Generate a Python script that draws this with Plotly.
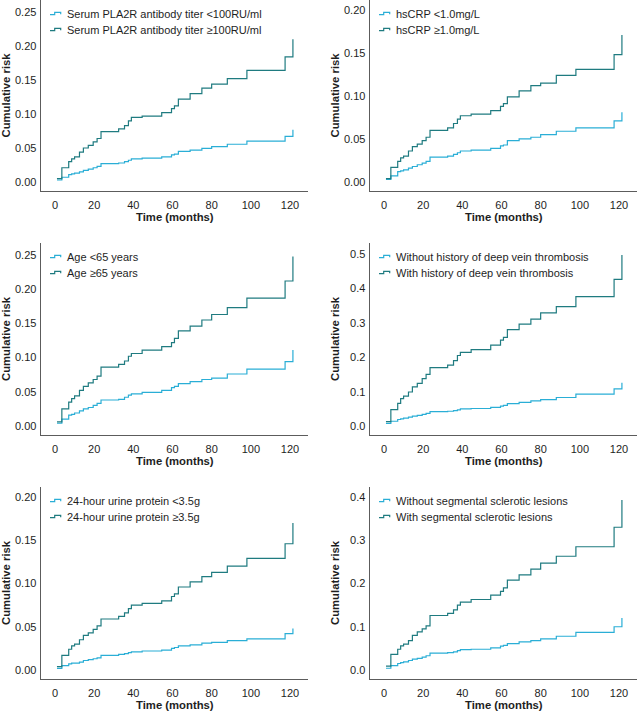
import plotly.graph_objects as go

W, H = 637, 711

# Event times (months) shared by all panels
months = [1, 3.5, 7, 8.5, 10, 12.5, 14.5, 17, 19.5, 21.5, 23.5, 32.5, 35.5, 37.5, 39,
          44.5, 54.5, 59.5, 61, 63, 69, 75, 80, 88, 98, 117.5, 121.5]

# Panel 1: Serum PLA2R antibody titer
pla2r_low = [0.003, 0.007, 0.011, 0.012, 0.013, 0.015, 0.017, 0.019, 0.021, 0.023, 0.027, 0.028, 0.030, 0.032,
             0.034, 0.035, 0.037, 0.040, 0.041, 0.045, 0.047, 0.0495, 0.052, 0.0555, 0.060, 0.067, 0.077]
pla2r_high = [0.005, 0.021, 0.030, 0.034, 0.037, 0.044, 0.050, 0.054, 0.059, 0.064, 0.074, 0.078, 0.083, 0.090,
              0.095, 0.097, 0.102, 0.108, 0.112, 0.122, 0.130, 0.138, 0.144, 0.152, 0.164, 0.184, 0.210]

# Panel 2: hsCRP
crp_low = [0.003, 0.007, 0.012, 0.013, 0.014, 0.016, 0.018, 0.020, 0.022, 0.024, 0.029, 0.030, 0.032, 0.034,
           0.036, 0.037, 0.039, 0.042, 0.043, 0.048, 0.050, 0.052, 0.055, 0.059, 0.063, 0.071, 0.081]
crp_high = [0.004, 0.017, 0.024, 0.028, 0.030, 0.036, 0.041, 0.044, 0.048, 0.052, 0.060, 0.063, 0.068, 0.073,
            0.077, 0.079, 0.083, 0.088, 0.091, 0.099, 0.106, 0.112, 0.115, 0.124, 0.131, 0.148, 0.171]

# Panel 3: Age
age_low = [0.004, 0.010, 0.016, 0.017, 0.019, 0.022, 0.025, 0.027, 0.030, 0.033, 0.038, 0.039, 0.042, 0.045,
           0.047, 0.049, 0.052, 0.056, 0.058, 0.062, 0.065, 0.068, 0.070, 0.076, 0.083, 0.094, 0.111]
age_high = [0.006, 0.025, 0.035, 0.040, 0.044, 0.052, 0.058, 0.063, 0.068, 0.073, 0.086, 0.090, 0.095, 0.102,
            0.106, 0.111, 0.116, 0.122, 0.128, 0.139, 0.146, 0.155, 0.163, 0.173, 0.187, 0.212, 0.248]

# Panel 4: Deep vein thrombosis
dvt_low = [0.008, 0.014, 0.019, 0.021, 0.023, 0.026, 0.029, 0.031, 0.034, 0.037, 0.042, 0.043, 0.045, 0.047,
           0.050, 0.051, 0.054, 0.058, 0.060, 0.065, 0.069, 0.073, 0.077, 0.083, 0.093, 0.108, 0.126]
dvt_high = [0.013, 0.048, 0.066, 0.080, 0.087, 0.099, 0.114, 0.124, 0.138, 0.150, 0.170, 0.177, 0.190, 0.205,
            0.214, 0.222, 0.235, 0.250, 0.258, 0.280, 0.296, 0.311, 0.329, 0.347, 0.376, 0.426, 0.497]

# Panel 5: 24-hour urine protein
prot_low = [0.002, 0.005, 0.007, 0.008, 0.008, 0.009, 0.011, 0.012, 0.013, 0.014, 0.017, 0.018, 0.019, 0.020,
            0.021, 0.022, 0.023, 0.025, 0.026, 0.028, 0.029, 0.031, 0.032, 0.034, 0.036, 0.042, 0.048]
prot_high = [0.004, 0.017, 0.024, 0.028, 0.030, 0.035, 0.040, 0.043, 0.047, 0.051, 0.059, 0.062, 0.066, 0.071,
             0.075, 0.077, 0.080, 0.085, 0.088, 0.096, 0.102, 0.108, 0.113, 0.120, 0.129, 0.146, 0.170]

# Panel 6: Segmental sclerotic lesions
ssl_low = [0.004, 0.010, 0.015, 0.017, 0.019, 0.022, 0.025, 0.027, 0.030, 0.033, 0.039, 0.040, 0.042, 0.045,
           0.047, 0.048, 0.051, 0.055, 0.057, 0.061, 0.065, 0.068, 0.072, 0.078, 0.087, 0.100, 0.120]
ssl_high = [0.009, 0.036, 0.048, 0.056, 0.060, 0.068, 0.080, 0.088, 0.095, 0.102, 0.126, 0.131, 0.139, 0.150,
            0.157, 0.163, 0.173, 0.182, 0.190, 0.208, 0.220, 0.233, 0.247, 0.263, 0.285, 0.330, 0.393]

legend_labels = [
    ("Serum PLA2R antibody titer <100RU/ml", "Serum PLA2R antibody titer \u2265100RU/ml"),
    ("hsCRP <1.0mg/L", "hsCRP \u22651.0mg/L"),
    ("Age <65 years", "Age \u226565 years"),
    ("Without history of deep vein thrombosis", "With history of deep vein thrombosis"),
    ("24-hour urine protein <3.5g", "24-hour urine protein \u22653.5g"),
    ("Without segmental sclerotic lesions", "With segmental sclerotic lesions"),
]
y_ticks = [
    [0, 0.05, 0.10, 0.15, 0.20, 0.25],
    [0, 0.05, 0.10, 0.15, 0.20],
    [0, 0.05, 0.10, 0.15, 0.20, 0.25],
    [0, 0.1, 0.2, 0.3, 0.4, 0.5],
    [0, 0.05, 0.10, 0.15, 0.20],
    [0, 0.1, 0.2, 0.3, 0.4],
]
x_ticks = [0, 20, 40, 60, 80, 100, 120]
series = [(pla2r_low, pla2r_high), (crp_low, crp_high), (age_low, age_high),
          (dvt_low, dvt_high), (prot_low, prot_high), (ssl_low, ssl_high)]

# ---- layout / style ----
LOW_C = "#2aaed6"
HIGH_C = "#1f7b80"
AXIS_C = "#5c5c5c"
TXT_C = "#1e1e1e"
FONT = "Arial, Liberation Sans, sans-serif"
FS = 11
FS_TITLE = 11.3

y_ranges = [(-0.0132, 0.2676), (-0.0105, 0.2116), (-0.0132, 0.2676),
            (-0.026, 0.532), (-0.0104, 0.2116), (-0.0208, 0.4231)]
y_fmt = [".2f", ".2f", ".2f", ".1f", ".2f", ".1f"]
x_range = (-7.15, 129.2)

col_left = [41, 370]
col_w = 267
row_top = [0, 243, 487]
row_bot = [191, 435, 679]


def fx(p):
    return p / W


def fy(p):
    return 1 - p / H


fig = go.Figure()
shapes = []
annotations = []
layout = {}

for i, (low, high) in enumerate(series):
    r, c = divmod(i, 2)
    n = i + 1
    xa = "x" if n == 1 else f"x{n}"
    ya = "y" if n == 1 else f"y{n}"
    left = col_left[c]
    top, bot = row_top[r], row_bot[r]
    for vals, color in ((low, LOW_C), (high, HIGH_C)):
        fig.add_trace(go.Scatter(x=months, y=vals, mode="lines", line=dict(shape="hv", color=color, width=1.2),
                                 xaxis=xa, yaxis=ya, showlegend=False, hoverinfo="skip", cliponaxis=False))
    layout["xaxis" if n == 1 else f"xaxis{n}"] = dict(
        domain=[fx(left), fx(left + col_w)], anchor=ya, range=list(x_range),
        tickvals=x_ticks, showgrid=False, zeroline=False, showline=True, linecolor=AXIS_C, linewidth=1.4,
        ticks="outside", ticklen=3, tickcolor="rgba(0,0,0,0)",
        tickfont=dict(family=FONT, size=FS, color=TXT_C), automargin=False)
    layout["yaxis" if n == 1 else f"yaxis{n}"] = dict(
        domain=[fy(bot), fy(top)], anchor=xa, range=list(y_ranges[i]),
        tickvals=y_ticks[i], tickformat=y_fmt[i], showgrid=False, zeroline=False, showline=True,
        linecolor=AXIS_C, linewidth=1.4, ticks="outside", ticklen=1, tickcolor="rgba(0,0,0,0)",
        tickfont=dict(family=FONT, size=FS, color=TXT_C), automargin=False)

    # axis titles
    annotations.append(dict(text="<b>Time (months)</b>", x=fx(left + col_w / 2), y=fy(bot + 26),
                            xref="paper", yref="paper", showarrow=False, xanchor="center", yanchor="middle",
                            font=dict(family=FONT, size=FS_TITLE, color=TXT_C)))
    annotations.append(dict(text="<b>Cumulative risk</b>", x=fx(left - 35), y=fy((top + bot) / 2),
                            xref="paper", yref="paper", showarrow=False, textangle=-90,
                            xanchor="center", yanchor="middle",
                            font=dict(family=FONT, size=FS_TITLE, color=TXT_C)))
    # legend (step glyph + label)
    for k, (lab, color) in enumerate(((legend_labels[i][0], LOW_C), (legend_labels[i][1], HIGH_C))):
        yc = top + 14 + 16 * k
        g0 = left + 9
        path = (f"M {fx(g0)},{fy(yc + 0.6)} L {fx(g0 + 4.7)},{fy(yc + 0.6)} "
                f"L {fx(g0 + 4.7)},{fy(yc - 1.6)} L {fx(g0 + 10.7)},{fy(yc - 1.6)} "
                f"L {fx(g0 + 10.7)},{fy(yc + 0.2)}")
        shapes.append(dict(type="path", path=path, xref="paper", yref="paper",
                           line=dict(color=color, width=1.2)))
        annotations.append(dict(text=lab, x=fx(left + 24), y=fy(yc), xref="paper", yref="paper",
                                showarrow=False, xanchor="left", yanchor="middle",
                                font=dict(family=FONT, size=FS, color=TXT_C)))

fig.update_layout(width=W, height=H, margin=dict(l=0, r=0, t=0, b=0),
                  paper_bgcolor="white", plot_bgcolor="white", showlegend=False,
                  shapes=shapes, annotations=annotations, **layout)

fig.write_html("out.html", config={"displayModeBar": False, "staticPlot": True},
               post_script="document.body.style.margin='0';document.body.style.padding='0';"
                           "document.body.style.overflow='hidden';")
